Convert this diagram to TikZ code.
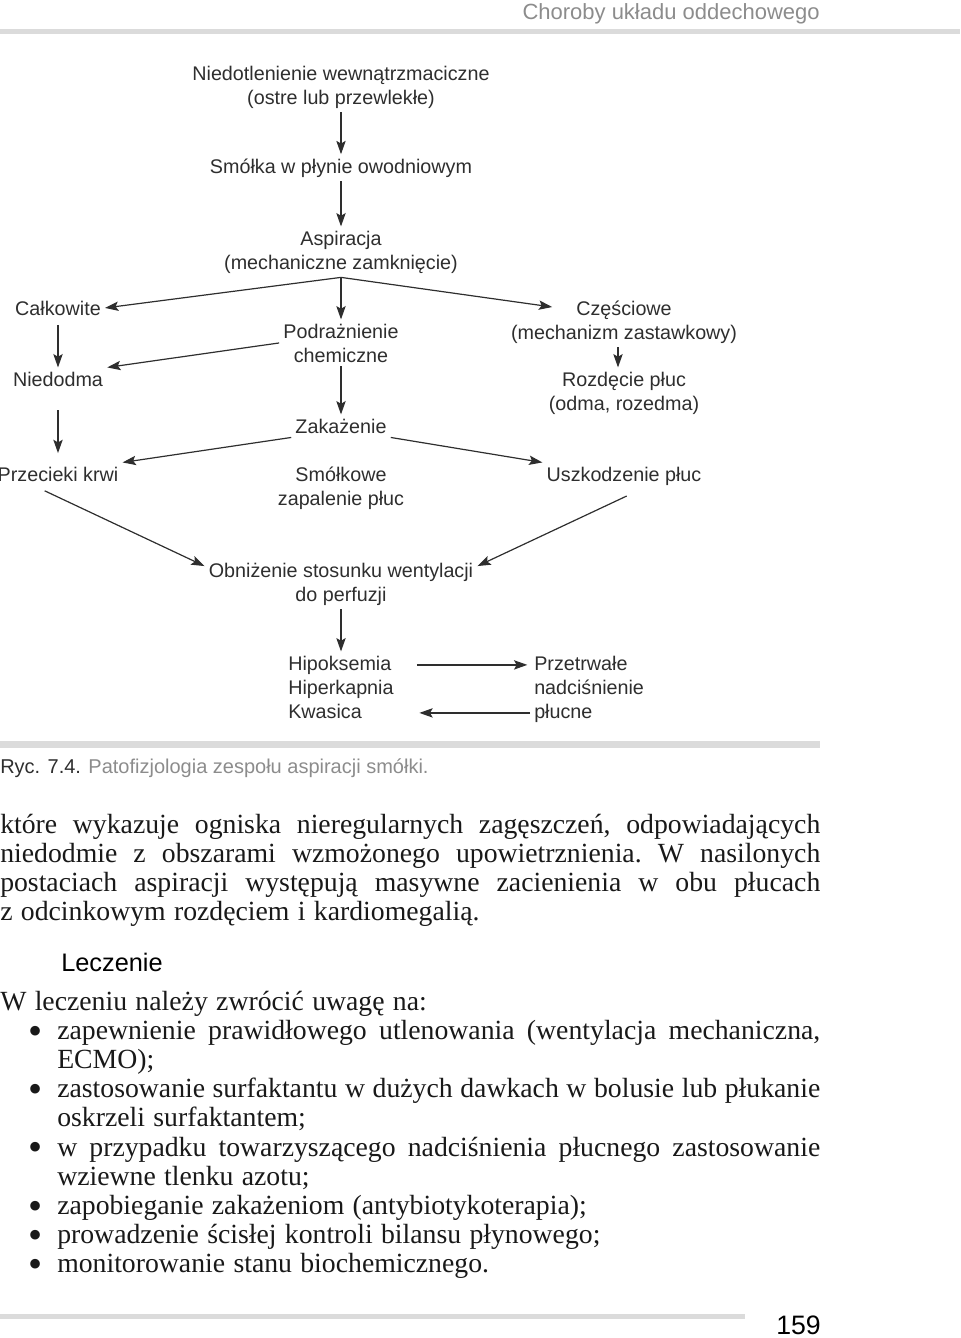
\documentclass[tikz,border=0pt]{standalone}
\usepackage{fontspec}
\setmainfont{Liberation Serif}
\setsansfont{Liberation Sans}
\usetikzlibrary{arrows.meta,calc}
\definecolor{ink}{gray}{0.18}
\definecolor{capgray}{gray}{0.55}
\definecolor{rulegray}{gray}{0.86}
\newcommand\bodyfont{\fontsize{20.8}{21.9}\selectfont\frenchspacing\spaceskip=.3em plus .15em minus .1em\relax}
\newcommand\itm{\par\noindent\hangindent=42.75pt\hangafter=1\hbox to 42.75pt{\hskip 21pt\raisebox{-3.6pt}[0pt][0pt]{\scalebox{1.45}{\textbullet}}\hfil}}

\begin{document}
\begin{tikzpicture}[x=0.75pt,y=-0.75pt,>={Stealth[length=10pt,width=7pt,inset=2pt]},every node/.style={inner sep=0pt}]
\tikzstyle{lbl}=[font=\sffamily\fontsize{14.8}{18}\selectfont,text=ink,align=center,inner sep=3pt,anchor=base]
\tikzstyle{lst}=[lbl,align=left,anchor=base west]
\tikzstyle{arr}=[->,line width=0.9pt,draw=ink]
\tikzstyle{body}=[font=\bodyfont,text=black!90,text width=615pt,align=justify,anchor=base west]
\useasboundingbox (0,0) rectangle (960,1338);
% page rules
\fill[rulegray] (0,29.5) rectangle (960,34.5);
\fill[rulegray] (0,740.5) rectangle (820,747.5);
\fill[rulegray] (0,1314) rectangle (745,1319);
\node[font=\sffamily\fontsize{16.5}{20}\selectfont,text=capgray,anchor=base east] (head) at (820,20) {Choroby układu oddechowego};
% diagram (base of a node = baseline of its last line)
\node[lbl] (niedot) at (341,104) {Niedotlenienie wewnątrzmaciczne\\(ostre lub przewlekłe)};
\node[lbl] (smolka) at (341,173) {Smółka w płynie owodniowym};
\node[lbl] (aspir) at (341,269) {Aspiracja\\(mechaniczne zamknięcie)};
\node[lbl] (calk) at (58,315) {Całkowite};
\node[lbl] (niedo) at (58,386) {Niedodma};
\node[lbl] (przec) at (58,481) {Przecieki krwi};
\node[lbl] (podr) at (341,362) {Podrażnienie\\chemiczne};
\node[lbl] (zakaz) at (341,433) {Zakażenie};
\node[lbl] (smzap) at (341,505) {Smółkowe\\zapalenie płuc};
\node[lbl] (czesc) at (624,315) {Częściowe};
\node[lbl] (mechz) at (624,339) {(mechanizm zastawkowy)};
\node[lbl] (rozd) at (624,410) {Rozdęcie płuc\\(odma, rozedma)};
\node[lbl] (uszk) at (624,481) {Uszkodzenie płuc};
\node[lbl] (obniz) at (341,601) {Obniżenie stosunku wentylacji\\do perfuzji};
\node[lst] (hipo) at (284,670) {Hipoksemia};
\node[lst] (hiper) at (284,694) {Hiperkapnia};
\node[lst] (kwas) at (284,718) {Kwasica};
\node[lst] (przetr) at (530,670) {Przetrwałe};
\node[lst] (nadc) at (530,694) {nadciśnienie};
\node[lst] (plucne) at (530,718) {płucne};
\draw[arr] (niedot) -- (smolka);
\draw[arr] (smolka) -- (aspir);
\draw[arr] (aspir.south) -- (calk.east);
\draw[arr] (aspir.south) -- (podr.north);
\draw[arr,shorten >=15pt] (aspir.south) -- (czesc.west);
\draw[arr,shorten <=4pt] (calk) -- (niedo);
\draw[arr] (podr.west) -- (niedo.north east);
\draw[arr,shorten <=15pt,shorten >=7pt] (niedo) -- (przec);
\draw[arr] (podr) -- (zakaz);
\draw[arr] ([xshift=-4.5pt]mechz.south) -- ([xshift=-4.5pt]rozd.north);
\draw[arr] (zakaz.south west) -- (przec.north east);
\draw[arr] (zakaz.south east) -- (uszk.north west);
\draw[arr] ([xshift=-10pt,yshift=-4pt]przec.south) -- ($(obniz.north west)!.15!(obniz.south west)$);
\draw[arr] ([xshift=2pt,yshift=-5pt]uszk.south) -- ($(obniz.north east)!.15!(obniz.south east)$);
\draw[arr] (obniz.south) -- (obniz.south |- hipo.north);
\draw[arr,shorten <=16pt,shorten >=2pt] (hipo.east) -- (hipo.east -| przetr.west);
\draw[arr,shorten >=40pt] (plucne.west) -- (plucne.west -| kwas.east);
% caption and text
\node[font=\sffamily\fontsize{15}{18}\selectfont,anchor=base west] (ryc) at (0,773) {{\color{ink}Ryc. 7.4.} {\color{capgray}Patofizjologia zespołu aspiracji smółki.}};
\node[body] (tekst) at (0,833) {które wykazuje ogniska nieregularnych zagęszczeń, odpowiadających\linebreak niedodmie z obszarami wzmożonego upowietrznienia. W nasilonych\linebreak postaciach aspiracji występują masywne zacienienia w obu płucach\linebreak z odcinkowym rozdęciem i kardiomegalią.};
\node[font=\sffamily\fontsize{19}{22}\selectfont,anchor=base west] (lecz) at (61,971) {Leczenie};
\node[body] (lista) at (0,1010) {W leczeniu należy zwrócić uwagę na:\itm zapewnienie prawidłowego utlenowania (wentylacja mechaniczna,\linebreak ECMO);\itm zastosowanie surfaktantu w dużych dawkach w bolusie lub płukanie\linebreak oskrzeli surfaktantem;\itm w przypadku towarzyszącego nadciśnienia płucnego zastosowanie\linebreak wziewne tlenku azotu;\itm zapobieganie zakażeniom (antybiotykoterapia);\itm prowadzenie ścisłej kontroli bilansu płynowego;\itm monitorowanie stanu biochemicznego.};
\node[font=\sffamily\fontsize{20}{24}\selectfont,anchor=base west] (strona) at (776,1334) {159};
\end{tikzpicture}
\end{document}
